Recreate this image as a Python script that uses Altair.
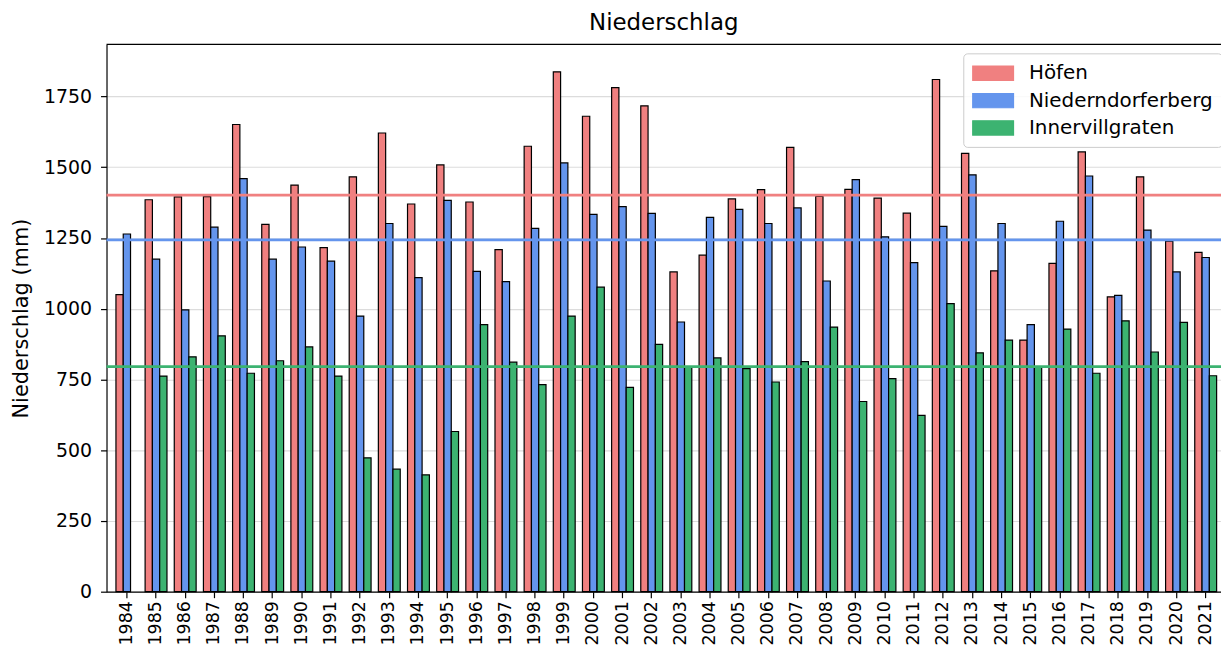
import altair as alt
import pandas as pd

years = [str(y) for y in range(1984, 2022)]
series = ["Höfen", "Niederndorferberg", "Innervillgraten"]
colors = ["#F08080", "#6495ED", "#3CB371"]

hoefen = [1050, 1385, 1395, 1396, 1651, 1298, 1437, 1216, 1466, 1621,
          1370, 1508, 1377, 1209, 1574, 1837, 1680, 1781, 1717, 1130,
          1189, 1388, 1421, 1570, 1397, 1422, 1391, 1338, 1810, 1549,
          1134, 889, 1160, 1554, 1042, 1466, 1239, 1199]
nieder = [1264, 1175, 996, 1288, 1460, 1175, 1218, 1168, 974, 1301,
          1110, 1383, 1132, 1096, 1284, 1515, 1333, 1361, 1337, 953,
          1323, 1351, 1301, 1356, 1098, 1456, 1254, 1163, 1291, 1473,
          1301, 944, 1309, 1469, 1047, 1278, 1130, 1181]
inner = [None, 762, 830, 904, 772, 816, 865, 762, 473, 433,
         413, 566, 944, 811, 732, 974, 1076, 722, 874, 793,
         826, 788, 741, 813, 935, 672, 753, 623, 1018, 844,
         889, 795, 928, 772, 957, 847, 952, 763]
y_ticks = [0, 250, 500, 750, 1000, 1250, 1500, 1750]

rows = []
for s, vals in zip(series, [hoefen, nieder, inner]):
    for yr, v in zip(years, vals):
        rows.append({"year": yr, "series": s, "value": v})
df = pd.DataFrame(rows)
df["value"] = df["value"].astype(float)

W, H = 1120, 550
FONT = "DejaVu Sans"

y_enc = alt.Y(
    "value:Q",
    scale=alt.Scale(domain=[0, 1934], nice=False, zero=True),
    axis=alt.Axis(
        values=y_ticks, format="d", grid=True, title="Niederschlag (mm)",
        labelFontSize=19, tickSize=6, labelPadding=9,
        titleFontSize=21, titleFontWeight="normal", titleAngle=270,
        titleX=-85, titleY=H / 2, titleAlign="center", titleBaseline="middle",
    ),
)

bars = alt.Chart(df).mark_bar(color="black", stroke="black", strokeWidth=1.2).encode(
    x=alt.X(
        "year:O",
        title=None,
        scale=alt.Scale(paddingInner=0.25, paddingOuter=0.237, align=0.683),
        axis=alt.Axis(
            labelAngle=270, labelAlign="right", labelBaseline="middle",
            labelFontSize=17.5, labelPadding=3, tickSize=6, grid=False,
        ),
    ),
    xOffset=alt.XOffset("series:N", sort=series,
                        scale=alt.Scale(paddingInner=0, paddingOuter=0)),
    y=y_enc,
    fill=alt.Fill(
        "series:N", sort=series,
        scale=alt.Scale(domain=series, range=colors),
        legend=alt.Legend(
            orient="none", legendX=861, legendY=9, title=None,
            labelFontSize=20, labelFont=FONT, labelColor="black", labelLimit=400,
            symbolType="M-2,-0.7L2,-0.7L2,0.7L-2,0.7Z", symbolSize=420,
            symbolStrokeColor="black", symbolStrokeWidth=1.2, symbolOpacity=1,
            symbolOffset=10, labelOffset=25, rowPadding=6.5, padding=9,
            fillColor="rgba(255,255,255,0.85)", strokeColor="#cccccc",
            cornerRadius=4,
        ),
    ),
)

means = alt.Chart(df).mark_rule(strokeWidth=2.8).encode(
    y=alt.Y("mean(value):Q", title="Niederschlag (mm)"),
    stroke=alt.Stroke("series:N", sort=series,
                      scale=alt.Scale(domain=series, range=colors), legend=None),
)

frame_top = alt.Chart(pd.DataFrame({"a": [0]})).mark_rule(
    color="black", strokeWidth=1.2
).encode(y=alt.value(0), x=alt.value(0), x2=alt.value(W))

chart = alt.layer(bars, means, frame_top).properties(
    width=W,
    height=H,
    title=alt.Title("Niederschlag", fontSize=23, font=FONT, fontWeight="normal",
                    color="black", anchor="middle", frame="group",
                    offset=6, dy=20, baseline="bottom"),
    padding={"left": 99, "top": 35, "right": 0, "bottom": 53},
    autosize=alt.AutoSizeParams(type="none"),
).configure_view(stroke=None).configure_axis(
    labelFont=FONT, titleFont=FONT, labelColor="black", titleColor="black",
    domainColor="black", tickColor="black", domainWidth=1.2, tickWidth=1.2,
    gridColor="#dcdcdc", gridWidth=1.1,
)

chart.save("out.html", embed_options={"renderer": "svg", "actions": False})
